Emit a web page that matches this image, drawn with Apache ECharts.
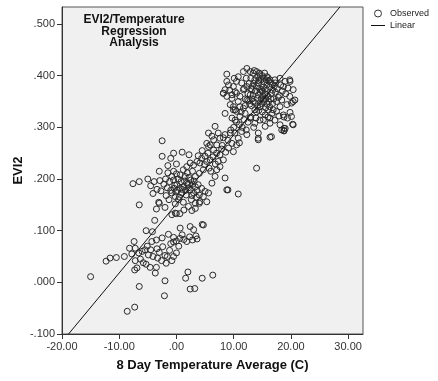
<!DOCTYPE html>
<html>
<head>
<meta charset="utf-8">
<script src="https://cdn.jsdelivr.net/npm/echarts@6/dist/echarts.min.js"></script>
<style>
html,body{margin:0;padding:0;background:#fff;}
#chart{width:438px;height:381px;}
</style>
</head>
<body>
<div id="chart"></div>
<script>
// ---- Data (temperature °C, EVI2) ----
const chartTitle = 'EVI2/Temperature\nRegression\nAnalysis';
const xTicks = [-20, -10, 0, 10, 20, 30];
const yTicks = [-0.1, 0, 0.1, 0.2, 0.3, 0.4, 0.5];
const xRange = [-20, 32.6];
const yRange = [-0.1, 0.533];

const lowCluster = [
  [-15.0,0.011],[-12.3,0.041],[-11.6,0.047],[-10.5,0.048],[-9.1,0.050],[-8.6,-0.056],[-7.3,-0.048],[-6.5,-0.008],[-7.3,0.024],
  [-8.2,0.066],[-7.2,0.066],[-7.4,0.079],[-6.6,0.057],[-6.0,0.060],[-5.5,0.063],[-4.5,0.063],[-3.4,0.065],[-2.4,0.069],
  [-4.3,0.079],[-3.5,0.082],[-2.5,0.086],[-1.4,0.093],[-0.5,0.087],[0.0,0.080],
  [-4.9,0.053],[-4.1,0.050],[-3.3,0.047],[-2.6,0.042],[-1.8,0.037],[-0.8,0.042],[0.0,0.057],[-0.5,0.050],
  [-5.3,0.035],[-4.6,0.029],[-3.5,0.029],[-7.2,0.042],[-6.9,0.028],[-3.7,0.018],
  [-7.8,0.055],[-6.3,0.045],[-5.8,0.038],[-5.1,0.070],[-3.0,0.058],[-2.0,0.052],[-1.2,0.062],[-1.0,0.075],[0.4,0.070],
  [-0.5,0.078],[0.6,0.085],[1.3,0.083],[1.8,0.079],[2.3,0.088],[2.8,0.082],[3.4,0.090],[3.6,0.084],[1.0,0.092],[-1.6,0.050],
  [-2.0,0.003],[-2.1,-0.026],[1.6,0.008],[2.0,0.020],[2.4,-0.013],[3.2,-0.012],[4.5,0.008],[6.35,0.014],
  [-5.3,0.100],[-4.2,0.098],[-3.8,0.120],[-3.5,0.142],[-3.0,0.153],[-6.5,0.150],[-3.1,0.155],
  [4.5,0.112],[2.4,0.108],[3.0,0.102],[0.65,0.105],[4.7,0.111],[0.0,0.133],[0.6,0.133],[-0.2,0.134],[-0.8,0.131],
  [1.3,0.140],[2.1,0.147],[2.7,0.139],[3.3,0.143],[4.0,0.153],[3.3,0.153],[4.1,0.156],[5.3,0.156]
];

const midCluster = [
  [-7.6,0.191],[-6.5,0.195],[-5.0,0.200],[-4.5,0.187],[-3.9,0.195],[-4.1,0.172],[-3.4,0.180],[-2.9,0.197],[-3.0,0.215],[-2.7,0.177],[-2.5,0.244],[-2.5,0.274],
  [-2.2,0.190],[-1.9,0.200],[-1.6,0.183],[-1.5,0.212],[-1.2,0.195],[-1.0,0.178],[-0.8,0.205],[-0.5,0.215],[-0.3,0.188],[-0.1,0.175],[0.0,0.229],[-1.8,0.168],
  [-1.3,0.160],[-1.0,0.240],[-0.5,0.250],[-1.5,0.226],[-2.0,0.145],[-0.2,0.152],[0.5,0.165],[1.2,0.155],[2.6,0.160],[3.5,0.165],
  [0.65,0.208],[1.2,0.218],[1.8,0.224],[2.4,0.231],[3.0,0.227],[3.6,0.234],[4.1,0.231],[4.4,0.240],[5.0,0.244],[5.3,0.234],[5.9,0.237],[4.7,0.218],
  [4.0,0.211],[3.3,0.205],[2.5,0.198],[1.8,0.192],[1.3,0.185],[0.65,0.182],[0.07,0.189],[-0.5,0.198],[-0.8,0.173],[-0.2,0.166],[0.35,0.160],[0.9,0.173],
  [1.7,0.169],[2.4,0.179],[3.3,0.185],[3.8,0.189],[4.4,0.182],[5.0,0.176],[5.6,0.173],[4.7,0.166],[4.0,0.169],[3.0,0.173],
  [6.2,0.192],[6.75,0.205],[7.05,0.218],[7.6,0.224],[7.3,0.234],[8.2,0.237],[7.6,0.247],[6.5,0.256],[5.9,0.266],[5.3,0.269],[6.5,0.276],[7.6,0.279],
  [8.5,0.286],[9.4,0.289],[10.2,0.289],[10.8,0.279],[11.4,0.292],[12.3,0.286],[9.7,0.269],[9.1,0.260],[9.95,0.253],[10.5,0.266],[8.5,0.202],[8.8,0.179],
  [10.8,0.171],[9.0,0.179],[2.2,0.247],[0.0,0.210],[0.3,0.200],[0.8,0.195],[1.5,0.205],[2.0,0.190],[2.8,0.215],[1.0,0.252],
  [5.6,0.263],[6.2,0.283],[7.05,0.266],[7.3,0.289],[8.2,0.280],[5.6,0.289],[6.75,0.302],[14.0,0.221],[6.0,0.215],[7.0,0.250],[8.0,0.265],[9.0,0.275],
  [11.0,0.270],[4.5,0.255],[3.8,0.245],
  [1.0,0.180],[1.6,0.178],[2.1,0.183],[2.8,0.190],[0.2,0.178],[-0.4,0.182],[1.4,0.196],[2.2,0.203],[3.1,0.196],[3.6,0.178],[2.7,0.168],[1.9,0.212],
  [5.5,0.250],[6.4,0.243],[6.8,0.229],[4.9,0.228],[5.7,0.221],[8.6,0.252],[7.9,0.258]
];

const highCluster = [
  [8.8,0.403],[11.7,0.408],[12.3,0.414],[12.9,0.408],[13.4,0.405],[14.0,0.408],[14.6,0.402],[15.2,0.395],[15.8,0.398],[16.35,0.392],[17.2,0.392],[18.1,0.395],
  [19.0,0.389],[19.8,0.392],[18.7,0.379],[19.5,0.376],[20.4,0.373],[19.8,0.360],[20.7,0.353],[20.1,0.347],[19.3,0.344],[18.4,0.353],[18.1,0.340],[17.5,0.331],
  [16.9,0.334],[16.1,0.334],[15.5,0.324],[16.35,0.318],[17.2,0.314],[18.1,0.305],[19.0,0.298],[18.7,0.324],[19.4,0.318],[20.1,0.321],[20.4,0.305],[18.4,0.295],
  [16.6,0.282],[14.3,0.279],[14.3,0.289],[16.35,0.308],[15.5,0.302],[14.6,0.314],[13.7,0.308],[12.9,0.318],[12.0,0.327],[11.1,0.321],[10.25,0.314],[9.7,0.318],
  [10.5,0.331],[11.7,0.337],[12.3,0.353],[12.9,0.363],[13.2,0.373],[12.3,0.379],[11.4,0.386],[10.5,0.389],[9.95,0.379],[9.1,0.382],[8.5,0.373],[8.2,0.366],
  [8.8,0.360],[9.7,0.356],[10.5,0.366],[11.1,0.360],[11.7,0.373],[9.4,0.344],[9.95,0.334],[8.5,0.327],[11.1,0.340],[13.4,0.350],[13.7,0.334],[14.6,0.340],
  [15.2,0.353],[15.8,0.363],[14.9,0.373],[14.3,0.386],[13.7,0.392],[10.8,0.398],[8.8,0.389],
  [13.0,0.395],[13.5,0.385],[14.0,0.380],[14.5,0.375],[15.0,0.370],[15.5,0.365],[16.0,0.360],[16.5,0.355],[14.2,0.398],[14.8,0.392],[15.3,0.388],[15.8,0.382],
  [16.3,0.378],[16.8,0.372],[17.3,0.368],[13.8,0.370],[14.3,0.362],[14.8,0.355],[15.3,0.350],[15.8,0.345],[16.3,0.340],[13.2,0.355],[13.7,0.348],[14.2,0.342],
  [12.8,0.345],[12.5,0.365],[13.0,0.375],[15.6,0.375],[16.1,0.390],[16.6,0.385],[17.1,0.380],[17.6,0.375],[17.0,0.355],[17.5,0.350],[18.0,0.362],[18.5,0.370],
  [15.0,0.400],[15.4,0.405],[13.6,0.410],[14.5,0.405],[16.0,0.396],[12.2,0.395],[12.7,0.385],[11.8,0.375],[12.0,0.355],[14.0,0.330],[15.0,0.330],[16.0,0.320],
  [15.2,0.315],[13.0,0.320],[12.5,0.310],[11.5,0.300],[12.2,0.295],[13.5,0.300],[11.0,0.305],[10.5,0.310],[10.0,0.300],[9.5,0.295],[11.8,0.315],[13.9,0.318],
  [20.4,0.350],[19.85,0.329],[20.3,0.306],[18.8,0.298],[18.8,0.294],[18.8,0.320],[19.85,0.389],[14.3,0.276],[16.35,0.281],[18.8,0.293],
  [8.2,0.366],[9.7,0.363],[10.25,0.369],[9.95,0.340],[10.25,0.334],
  [14.6,0.368],[15.1,0.361],[15.6,0.356],[16.1,0.350],[16.6,0.366],[15.2,0.378],[14.1,0.356],[13.4,0.362],[14.9,0.346],[16.8,0.346],[17.8,0.358],[17.3,0.386],
  [15.7,0.392],[14.4,0.391],[13.3,0.380],[12.6,0.352],[13.1,0.342],[14.4,0.333],[15.6,0.338],[16.7,0.327],[17.9,0.322],[18.2,0.382],[19.1,0.365],[12.0,0.342],
  [11.3,0.330],[10.8,0.350],[9.3,0.372],[10.1,0.395]
];

// Linear fit: EVI2 = intercept + slope * temperature
const linearIntercept = 0.1517;
const linearSlope = 0.01335;

// ---- Chart ----
const observed = lowCluster.concat(midCluster, highCluster);
const fitX0 = (yRange[0] - linearIntercept) / linearSlope;
const fitX1 = (yRange[1] - linearIntercept) / linearSlope;
const linearLine = [[fitX0, linearIntercept + linearSlope * fitX0], [fitX1, linearIntercept + linearSlope * fitX1]];

const FONT = '"Liberation Sans", Arial, sans-serif';
const chart = echarts.init(document.getElementById('chart'), null, {renderer: 'canvas'});

function fmtY(v) {
  let s = Math.abs(v).toFixed(3).replace(/^0\./, '.');
  return (v < -1e-9 ? '-' : '') + s;
}
function fmtX(v) {
  let s = Math.abs(v).toFixed(2).replace(/^0\./, '.');
  return (v < -1e-9 ? '-' : '') + s;
}

chart.setOption({
  animation: false,
  backgroundColor: '#ffffff',
  title: {
    text: chartTitle,
    left: 134, top: 14, padding: 0,
    textAlign: 'center',
    textStyle: {fontFamily: FONT, fontSize: 12, fontWeight: 'bold', color: '#111', lineHeight: 11.5}
  },
  legend: {
    orient: 'vertical',
    left: 371, top: 9,
    padding: 0,
    itemWidth: 14, itemHeight: 7, itemGap: 3,
    textStyle: {fontFamily: FONT, fontSize: 9, color: '#222'},
    data: [
      {name: 'Observed', icon: 'circle', itemStyle: {color: 'rgba(0,0,0,0)', borderColor: '#333', borderWidth: 1}},
      {name: 'Linear', icon: 'path://M0,0H14V1H0Z', itemStyle: {color: '#111', borderWidth: 0}}
    ]
  },
  grid: {
    left: 62, right: 75, top: 7, bottom: 47,
    show: true,
    backgroundColor: '#f0f0f0',
    borderColor: '#555',
    borderWidth: 1,
    containLabel: false,
    outerBoundsMode: 'none'
  },
  xAxis: {
    type: 'value',
    min: xRange[0], max: xRange[1],
    name: '8 Day Temperature Average (C)',
    nameLocation: 'middle',
    nameGap: 25,
    nameMoveOverlap: false,
    nameTextStyle: {fontFamily: FONT, fontSize: 13, fontWeight: 'bold', color: '#111'},
    axisLine: {show: true, onZero: false, lineStyle: {color: '#333', width: 1}},
    axisTick: {show: true, length: 5, inside: false, lineStyle: {color: '#333'}, customValues: xTicks},
    axisLabel: {fontFamily: FONT, fontSize: 11, color: '#333', margin: 7, formatter: fmtX, customValues: xTicks},
    splitLine: {show: false}
  },
  yAxis: {
    type: 'value',
    min: yRange[0], max: yRange[1],
    name: 'EVI2',
    nameLocation: 'middle',
    nameGap: 37,
    nameRotate: 90,
    nameMoveOverlap: false,
    nameTextStyle: {fontFamily: FONT, fontSize: 13, fontWeight: 'bold', color: '#111'},
    axisLine: {show: true, onZero: false, lineStyle: {color: '#333', width: 1}},
    axisTick: {show: true, length: 5, inside: false, lineStyle: {color: '#333'}, customValues: yTicks},
    axisLabel: {fontFamily: FONT, fontSize: 11, color: '#333', margin: 7, formatter: fmtY, customValues: yTicks},
    splitLine: {show: false}
  },
  series: [
    {
      name: 'Observed',
      type: 'scatter',
      symbol: 'circle',
      symbolSize: 6,
      data: observed,
      itemStyle: {color: 'rgba(0,0,0,0)', borderColor: '#2a2a2a', borderWidth: 1, opacity: 1},
      emphasis: {disabled: true},
      silent: true
    },
    {
      name: 'Linear',
      type: 'line',
      data: linearLine,
      symbol: 'none',
      clip: true,
      itemStyle: {color: '#111'},
      lineStyle: {color: '#111', width: 1},
      silent: true,
      z: 3
    }
  ]
});
</script>
</body>
</html>
